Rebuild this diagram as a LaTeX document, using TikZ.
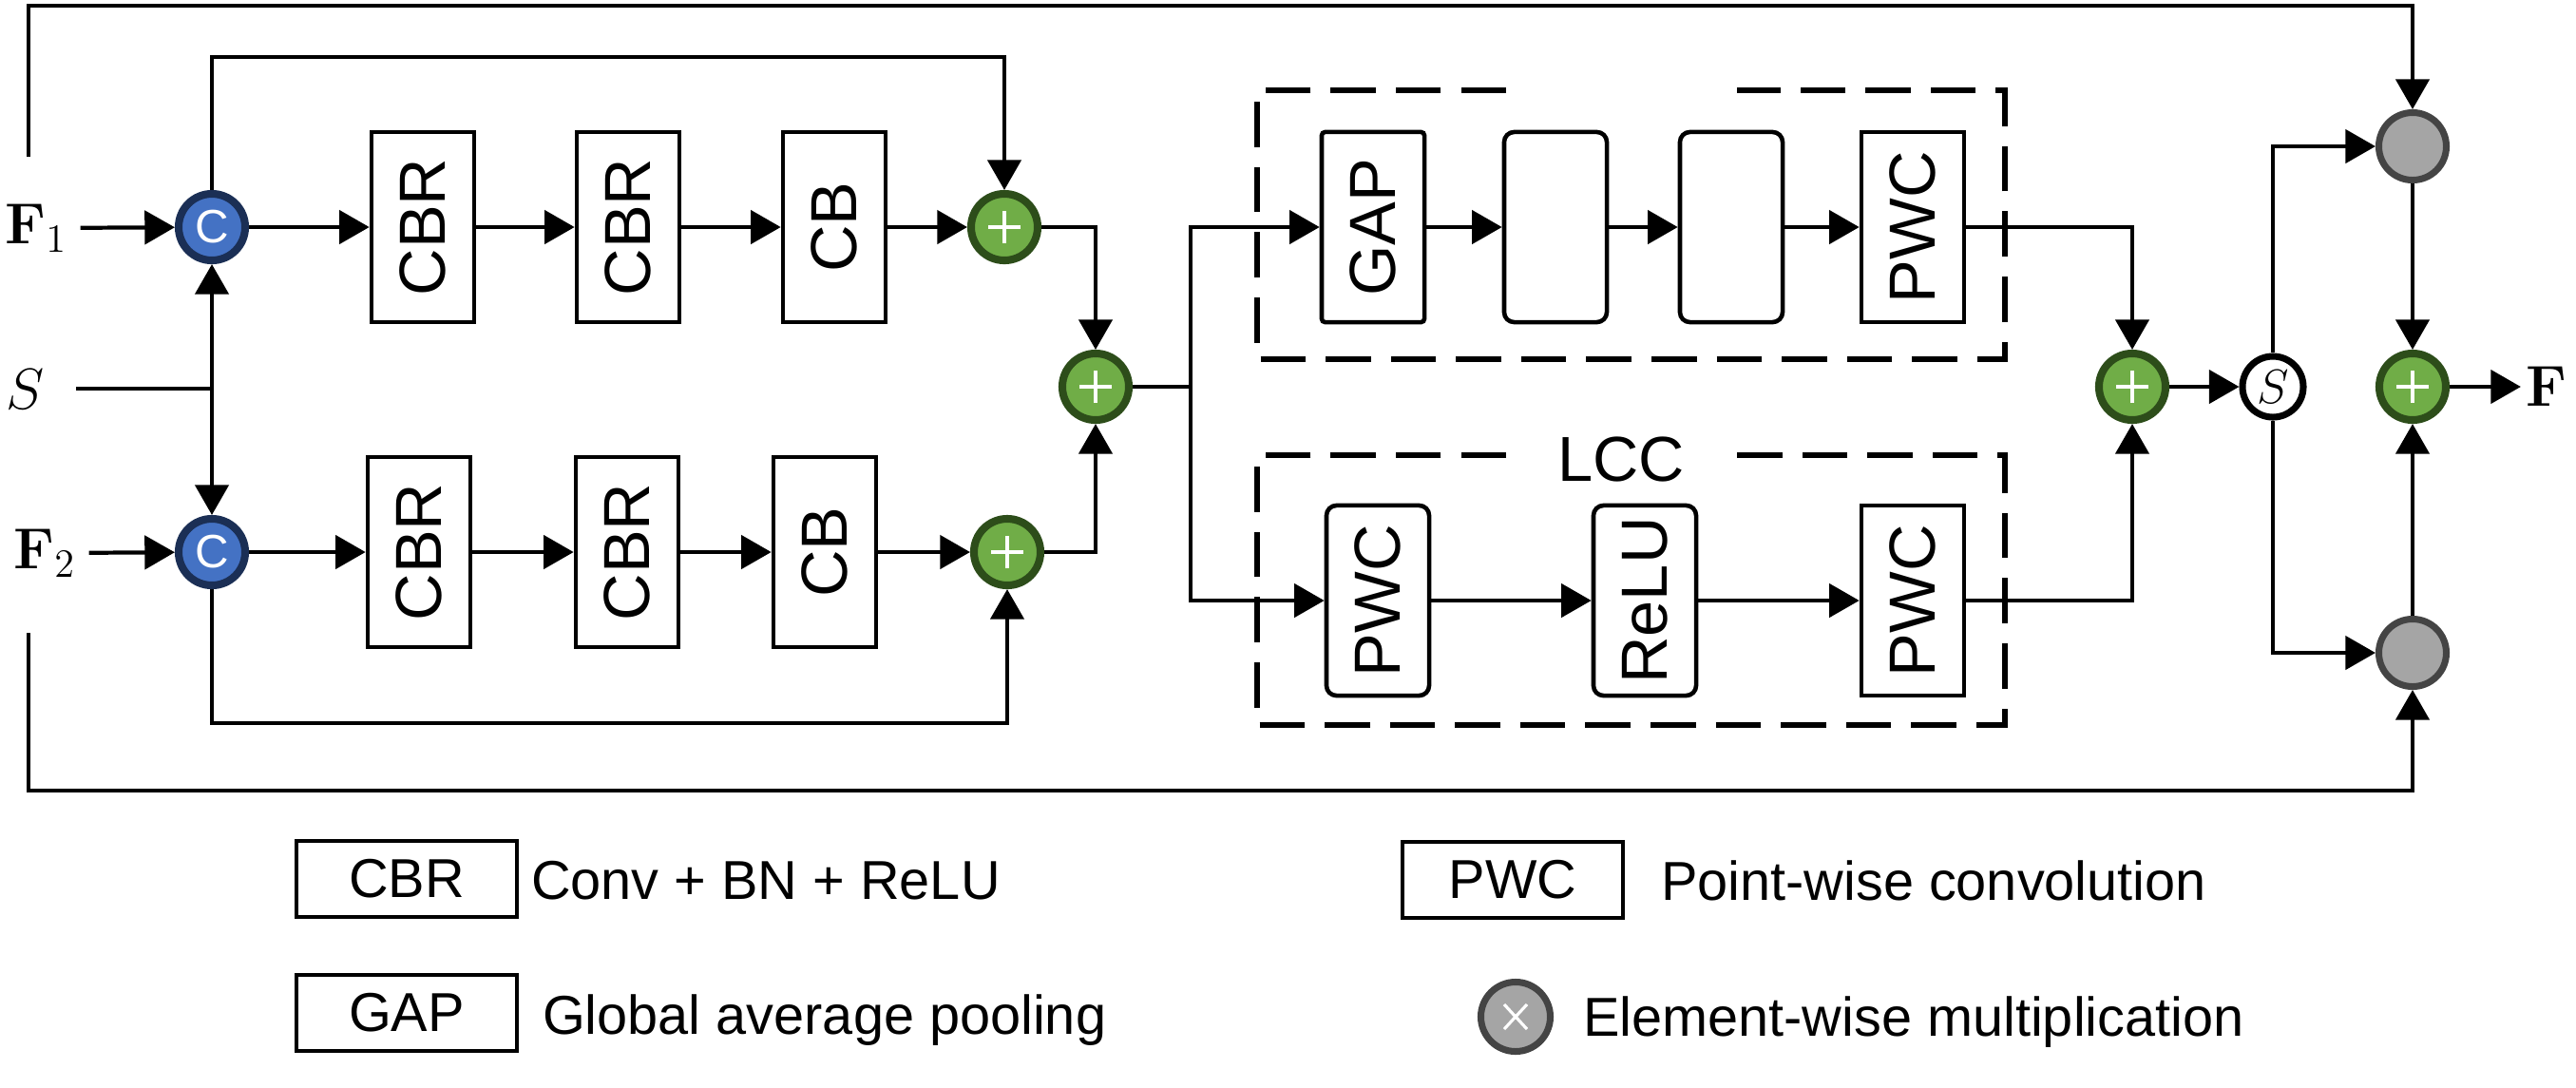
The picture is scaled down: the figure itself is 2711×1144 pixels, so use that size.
\documentclass[tikz,border=0pt]{standalone}
\usepackage{amssymb,amsmath,graphicx}
\usepackage[no-math]{fontspec}
\newfontfamily\arialfont{Liberation Sans}
\usetikzlibrary{positioning}
\usetikzlibrary{arrows.meta}
\definecolor{catfill}{HTML}{4472C4}
\definecolor{catline}{HTML}{1B2F55}
\definecolor{addfill}{HTML}{70AD47}
\definecolor{addline}{HTML}{2D4D1A}
\definecolor{mulfill}{HTML}{A5A5A5}
\definecolor{mulline}{HTML}{444444}

\begin{document}
\begin{tikzpicture}[x=0.01cm, y=-0.01cm, line width=1.2pt,
  >={Triangle[length=9pt,width=10pt]},
  blk/.style={draw, line width=1.3pt, minimum width=1.08cm, minimum height=2.0cm, inner sep=0pt,
    font=\arialfont\fontsize{19.5}{19.5}\selectfont},
  rblk/.style={blk, rounded corners=3pt},
  cat/.style={circle, draw=catline, fill=catfill, line width=2.3pt, minimum size=0.7cm, inner sep=0pt,
    text=white, font=\arialfont\fontsize{14}{14}\selectfont},
  add/.style={circle, draw=addline, fill=addfill, line width=2.3pt, minimum size=0.7cm, inner sep=0pt,
    path picture={\draw[white, line width=1.1pt]
      ([xshift=-0.17cm]path picture bounding box.center) -- ([xshift=0.17cm]path picture bounding box.center)
      ([yshift=-0.17cm]path picture bounding box.center) -- ([yshift=0.17cm]path picture bounding box.center);}},
  mul/.style={circle, draw=mulline, fill=mulfill, line width=2pt, minimum size=0.71cm, inner sep=0pt},
  sel/.style={circle, draw, fill=white, line width=2pt, minimum size=0.64cm, inner sep=0pt,
    font=\fontsize{14}{14}\selectfont},
  dbox/.style={dash pattern=on 13.5pt off 6pt, line width=1.7pt},
  lgd/.style={draw, line width=1.3pt, minimum width=2.32cm, minimum height=0.8cm, inner sep=0pt,
    font=\arialfont\fontsize{16.4}{16.4}\selectfont},
  lgdtxt/.style={anchor=base west, inner sep=0pt, font=\arialfont\fontsize{16.4}{16.4}\selectfont},
  lab/.style={font=\fontsize{16.5}{18}\selectfont}]
  \useasboundingbox (0,0) rectangle (2711,1144);

  % Inputs
  \node[lab] (f1) at (38,240) {$\mathbf{F}_1$};
  \node[lab] (f2) at (47,582) {$\mathbf{F}_2$};
  \node[lab] (s) at (27,410) {$S$};
  \coordinate (sin) at (80,409);
  \coordinate (ltop) at (30,165);
  \coordinate (lbot) at (30,666);

  % Concatenation
  \node[cat] (c1) at (223,239) {C};
  \node[cat] (c2) at (223,581) {C};

  % Two branches
  \node[blk] (cbr1) at (445,239) {\rotatebox{90}{CBR}};
  \node[blk] (cbr2) at (661,239) {\rotatebox{90}{CBR}};
  \node[blk] (cb1) at (878,239) {\rotatebox{90}{CB}};
  \node[add] (p1) at (1057,239) {};
  \node[blk] (cbr3) at (441,581) {\rotatebox{90}{CBR}};
  \node[blk] (cbr4) at (660,581) {\rotatebox{90}{CBR}};
  \node[blk] (cb2) at (868,581) {\rotatebox{90}{CB}};
  \node[add] (p2) at (1060,581) {};
  \node[add] (p3) at (1153,407) {};
  \coordinate (br) at (1253,407);

  % Global context
  \draw[dbox] (1585,95) -| (1323,378) -| (2110,95) -- (1828,95);
  \node[blk, rounded corners=1pt] (gap) at (1445,239) {\rotatebox{90}{GAP}};
  \node[rblk] (e1) at (1637,239) {};
  \node[rblk] (e2) at (1822,239) {};
  \node[blk] (pwa) at (2013,239) {\rotatebox{90}{PWC}};

  % LCC
  \draw[dbox] (1585,479) -| (1323,763) -| (2110,479) -- (1828,479);
  \node[inner sep=0pt, font=\arialfont\fontsize{19}{19}\selectfont] (lcc) at (1706,483) {LCC};
  \node[rblk] (pw1) at (1450,632) {\rotatebox{90}{PWC}};
  \node[rblk] (relu) at (1731,632) {\rotatebox{90}{ReLU}};
  \node[blk] (pw2) at (2013,632) {\rotatebox{90}{PWC}};

  % Fusion
  \node[add] (p4) at (2244,407) {};
  \node[sel] (sn) at (2392,407) {$S$};
  \node[mul] (g1) at (2539,154) {};
  \node[mul] (g2) at (2539,687) {};
  \node[add] (p5) at (2539,407) {};
  \node[lab, inner sep=1pt] (fout) at (2680,407) {$\mathbf{F}$};

  % Connections
  \draw[->] (f1) -- (c1);
  \draw[->] (f2) -- (c2);
  \draw (sin) -- (sin -| c1);
  \draw[<->] (c1) -- (c2);
  \draw[->] (c1) -- (cbr1);
  \draw[->] (cbr1) -- (cbr2);
  \draw[->] (cbr2) -- (cb1);
  \draw[->] (cb1) -- (p1);
  \draw[->] (c2) -- (cbr3);
  \draw[->] (cbr3) -- (cbr4);
  \draw[->] (cbr4) -- (cb2);
  \draw[->] (cb2) -- (p2);
  \draw[->] (c1.north) -- ++(0,-140) -| (p1);
  \draw[->] (c2.south) -- ++(0,141) -| (p2);
  \draw[->] (p1) -| (p3);
  \draw[->] (p2) -| (p3);
  \draw (p3) -- (br);
  \draw[->] (br) |- (gap);
  \draw[->] (br) |- (pw1);
  \draw[->] (gap) -- (e1);
  \draw[->] (e1) -- (e2);
  \draw[->] (e2) -- (pwa);
  \draw[->] (pw1) -- (relu);
  \draw[->] (relu) -- (pw2);
  \draw[->] (pwa) -| (p4);
  \draw[->] (pw2) -| (p4);
  \draw[->] (p4) -- (sn);
  \draw[->] (sn) |- (g1);
  \draw[->] (sn) |- (g2);
  \draw[->] (g1) -- (p5);
  \draw[->] (g2) -- (p5);
  \draw[->] (p5) -- (fout);
  \draw[->] (ltop) -- (30,6) -| (g1);
  \draw[->] (lbot) -- (30,832) -| (g2);

  % Legend
  \node[lgd] (lcbr) at (428,925) {CBR};
  \node[lgdtxt] (tcbr) at (557,946) {Conv + BN + ReLU};
  \node[lgd] (lgap) at (428,1066) {GAP};
  \node[lgdtxt] (tgap) at (569,1088) {Global average pooling};
  \node[lgd] (lpwc) at (1592,926) {PWC};
  \node[lgdtxt] (tpwc) at (1746,947) {Point-wise convolution};
  \node[mul, minimum size=0.73cm, path picture={\draw[white, line width=0.9pt]
      ([shift={(-0.12cm,-0.13cm)}]path picture bounding box.center) -- ([shift={(0.12cm,0.13cm)}]path picture bounding box.center)
      ([shift={(-0.12cm,0.13cm)}]path picture bounding box.center) -- ([shift={(0.12cm,-0.13cm)}]path picture bounding box.center);}]
    (lmul) at (1595,1070) {};
  \node[lgdtxt] (tmul) at (1664,1090) {Element-wise multiplication};
\end{tikzpicture}
\end{document}
